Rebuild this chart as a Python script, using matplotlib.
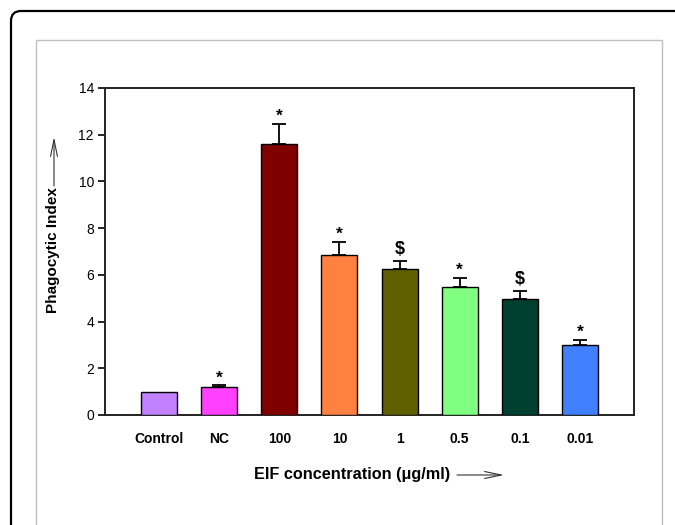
import matplotlib
matplotlib.use("Agg")
import matplotlib.pyplot as plt
from matplotlib.patches import FancyBboxPatch, Rectangle
from matplotlib.transforms import IdentityTransform

groups = ["Control", "NC", "100", "10", "1", "0.5", "0.1", "0.01"]
means = [1.0, 1.2, 11.6, 6.85, 6.23, 5.47, 4.97, 3.0]
errs = [0.0, 0.07, 0.87, 0.57, 0.37, 0.39, 0.35, 0.23]
marks = ["", "*", "*", "*", "$", "*", "$", "*"]
colors = ["#C080FF", "#FF40FF", "#800000", "#FF8040",
          "#606000", "#80FF80", "#004030", "#4080FF"]

plt.rcParams['font.family'] = ['Liberation Sans', 'DejaVu Sans']

W, H = 675, 525
fig = plt.figure(figsize=(W / 100, H / 100), dpi=100)

def fx(x):
    return x / W

def fy(y):
    return 1 - y / H

# frames around the figure
outer = FancyBboxPatch((11, -60), 720, H - 11 + 60,
                       boxstyle="round,pad=0,rounding_size=10",
                       transform=IdentityTransform(), fill=False,
                       edgecolor="black", linewidth=1.6)
fig.patches.append(outer)
inner = Rectangle((fx(36), -0.1), fx(662) - fx(36), fy(40) + 0.1,
                  transform=fig.transFigure, fill=False,
                  edgecolor="#c0c0c0", linewidth=1.0)
fig.patches.append(inner)

ax = fig.add_axes([fx(105), fy(415), fx(634) - fx(105), fy(88) - fy(415)])

xs = list(range(len(groups)))
ax.bar(xs, means, width=0.6, color=colors, edgecolor="black",
       linewidth=1.0, zorder=3)

for x, m, e, s in zip(xs, means, errs, marks):
    if e > 0:
        ax.errorbar(x, m, yerr=[[0], [e]], fmt="none", ecolor="black",
                    elinewidth=1.3, capsize=5, capthick=1.3, zorder=2)
    if s == "*":
        ax.annotate(s, (x, m + e), xytext=(0, 0), textcoords="offset points",
                    ha="center", va="bottom", fontsize=12.5, fontweight="bold")
    elif s == "$":
        ax.annotate(s, (x, m + e), xytext=(0, 2), textcoords="offset points",
                    ha="center", va="bottom", fontsize=13, fontweight="bold")

ax.set_xlim(-0.9, 7.9)
ax.set_ylim(0, 14)
ax.set_yticks(range(0, 15, 2))
ax.set_xticks(xs)
ax.set_xticklabels(groups, fontweight="bold", fontsize=10)
ax.tick_params(axis="x", length=0, pad=12)
ax.tick_params(axis="y", direction="out", length=5, width=1.2,
               labelsize=10, pad=3)
for sp in ax.spines.values():
    sp.set_linewidth(1.4)
    sp.set_color("#222222")

fig.text(fx(53), fy(250), "Phagocytic Index", rotation=90, ha="center",
         va="center", fontsize=11, fontweight="bold")
fig.text(fx(352), fy(474), "EIF concentration (\u03bcg/ml)", ha="center",
         va="center", fontsize=11.7, fontweight="bold")

arrow = dict(arrowstyle="->,head_length=1.2,head_width=0.25",
             color="#333333", lw=0.8, shrinkA=0, shrinkB=0)
fig.add_artist(plt.Annotation("", xy=(fx(54), fy(137)), xytext=(fx(54), fy(186)),
                              xycoords="figure fraction",
                              textcoords="figure fraction", arrowprops=arrow))
fig.add_artist(plt.Annotation("", xy=(fx(504), fy(475)), xytext=(fx(457), fy(475)),
                              xycoords="figure fraction",
                              textcoords="figure fraction", arrowprops=arrow))

fig.savefig("out.png", dpi=100)
